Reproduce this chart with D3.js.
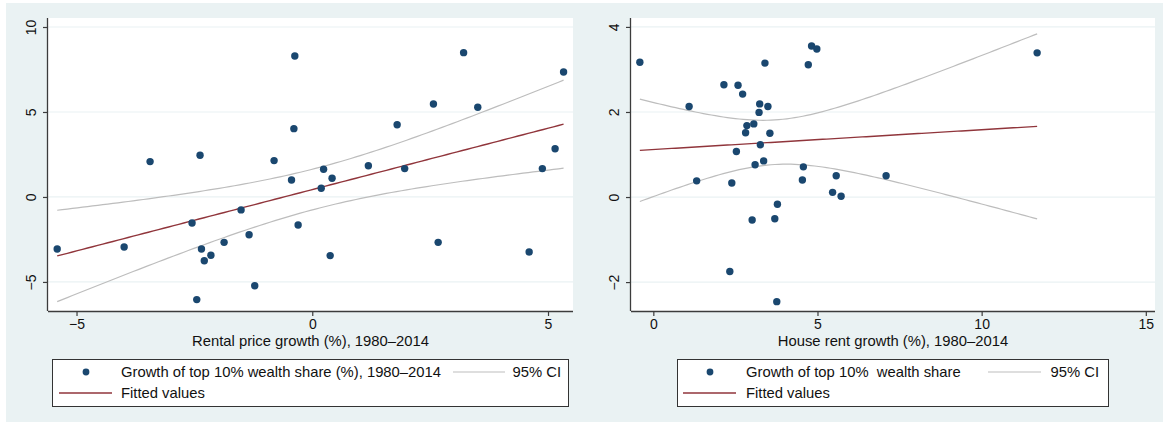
<!DOCTYPE html>
<html>
<head>
<meta charset="utf-8">
<script src="https://cdn.jsdelivr.net/npm/d3@7"></script>
<style>
  html, body { margin: 0; padding: 0; background: #ffffff; }
  svg { display: block; font-family: "Liberation Sans", Arial, Helvetica, sans-serif; }
</style>
</head>
<body>
<svg id="chart" width="1164" height="423"></svg>
<script>
// ---------------- DATA ----------------
// Left panel: rental price growth vs growth of top 10% wealth share
const leftX = [-5.41, -3.99, -3.44, -2.55, -2.45, -2.38, -2.35, -2.29, -2.15, -1.87, -1.51,
               -1.34, -1.22, -0.81, -0.44, -0.39, -0.37, -0.30, 0.19, 0.24, 0.38, 0.42,
               1.19, 1.80, 1.96, 2.57, 2.67, 3.21, 3.51, 4.60, 4.88, 5.15, 5.33];
const leftY = [-3.06, -2.94, 2.08, -1.53, -6.04, 2.45, -3.06, -3.75, -3.43, -2.67, -0.76,
               -2.22, -5.22, 2.14, 1.00, 4.02, 8.29, -1.65, 0.51, 1.63, -3.45, 1.10,
               1.84, 4.25, 1.67, 5.47, -2.67, 8.49, 5.28, -3.24, 1.67, 2.84, 7.35];
// Right panel: house rent growth vs growth of top 10% wealth share
const rightX = [-0.41, 1.09, 1.32, 2.15, 2.33, 2.39, 2.53, 2.58, 2.72, 2.81, 2.85, 3.01,
                3.06, 3.10, 3.22, 3.24, 3.26, 3.36, 3.40, 3.49, 3.55, 3.70, 3.76, 3.78,
                4.54, 4.57, 4.72, 4.82, 4.98, 5.46, 5.57, 5.72, 7.09, 11.69];
const rightY = [3.17, 2.13, 0.38, 2.64, -1.75, 0.33, 1.07, 2.63, 2.42, 1.51, 1.68, -0.54,
                1.72, 0.76, 1.99, 2.19, 1.23, 0.85, 3.15, 2.13, 1.50, -0.51, -2.46, -0.17,
                0.40, 0.71, 3.11, 3.55, 3.48, 0.11, 0.50, 0.02, 0.50, 3.39];

const leftXTicks = [-5, 0, 5];
const leftYTicks = [-5, 0, 5, 10];
const rightXTicks = [0, 5, 10, 15];
const rightYTicks = [-2, 0, 2, 4];

const leftXTitle = "Rental price growth (%), 1980\u20132014";
const rightXTitle = "House rent growth (%), 1980\u20132014";
const leftLegendLabels = ["Growth of top 10% wealth share (%), 1980\u20132014", "95% CI", "Fitted values"];
const rightLegendLabels = ["Growth of top 10%\u00a0\u00a0wealth share", "95% CI", "Fitted values"];

// ---------------- STYLE ----------------
const C = {
  bg: "#eaf2f3", plot: "#ffffff", grid: "#eaf2f3", axis: "#3c3c3c",
  marker: "#1a476f", fit: "#90353b", ci: "#bdbdbd", text: "#111111"
};
const FS_TEXT = 14.8, FS_TICK = 14;

const svg = d3.select("#chart");
svg.append("rect").attr("x", 6).attr("y", 3).attr("width", 1157).attr("height", 419).attr("fill", C.bg);

const fmt = v => (v < 0 ? "\u2212" + Math.abs(v) : String(v));

// linear fit with 95% CI (as Stata lfitci)
function fitCI(xs, ys) {
  const n = xs.length;
  const mx = d3.mean(xs), my = d3.mean(ys);
  let sxx = 0, sxy = 0;
  for (let i = 0; i < n; i++) { sxx += (xs[i] - mx) ** 2; sxy += (xs[i] - mx) * (ys[i] - my); }
  const b = sxy / sxx, a = my - b * mx;
  let rss = 0;
  for (let i = 0; i < n; i++) rss += (ys[i] - a - b * xs[i]) ** 2;
  const s = Math.sqrt(rss / (n - 2));
  const df = n - 2, z = 1.959964;
  const t = z + (z ** 3 + z) / (4 * df) + (5 * z ** 5 + 16 * z ** 3 + 3 * z) / (96 * df * df);
  const [x0, x1] = d3.extent(xs);
  const pts = d3.range(0, 101).map(k => {
    const x = x0 + (x1 - x0) * k / 100;
    const yh = a + b * x;
    const se = s * Math.sqrt(1 / n + (x - mx) ** 2 / sxx);
    return { x, yh, lo: yh - t * se, hi: yh + t * se };
  });
  return pts;
}

function panel(cfg) {
  const { xs, ys, xDomain, yDomain, left, right, top, bottom, xTicks, yTicks, xTitle, legend, labels } = cfg;
  const x = d3.scaleLinear().domain(xDomain).range([left, right]);
  const y = d3.scaleLinear().domain(yDomain).range([bottom, top]);
  const g = svg.append("g");

  g.append("rect").attr("x", left).attr("y", top).attr("width", right - left).attr("height", bottom - top).attr("fill", C.plot);

  // gridlines
  g.selectAll(".grid").data(yTicks).enter().append("line")
    .attr("x1", left).attr("x2", right)
    .attr("y1", d => y(d)).attr("y2", d => y(d))
    .attr("stroke", C.grid).attr("stroke-width", 1.2);

  const pts = fitCI(xs, ys);
  const line = key => d3.line().x(d => x(d.x)).y(d => y(d[key]));
  ["hi", "lo"].forEach(k => {
    g.append("path").datum(pts).attr("d", line(k)).attr("fill", "none").attr("stroke", C.ci).attr("stroke-width", 1.2);
  });
  g.append("path").datum(pts).attr("d", line("yh")).attr("fill", "none").attr("stroke", C.fit).attr("stroke-width", 1.4);

  g.selectAll(".pt").data(xs.map((v, i) => [v, ys[i]])).enter().append("circle")
    .attr("cx", d => x(d[0])).attr("cy", d => y(d[1])).attr("r", 3.7).attr("fill", C.marker);

  // axes
  const xAxis = d3.axisBottom(x).tickValues(xTicks).tickFormat(fmt).tickSize(5).tickPadding(3);
  const xa = g.append("g").attr("transform", `translate(0,${bottom})`).call(xAxis);
  xa.select(".domain").attr("d", `M${left},0.5H${right}`).attr("stroke", C.axis).attr("stroke-width", 1.3);
  xa.selectAll(".tick line").attr("stroke", C.axis).attr("stroke-width", 1.2);
  xa.selectAll(".tick text").attr("font-size", FS_TICK).attr("fill", C.text).attr("font-family", null);

  const yAxis = d3.axisLeft(y).tickValues(yTicks).tickFormat(fmt).tickSize(5).tickPadding(3);
  const ya = g.append("g").attr("transform", `translate(${left},0)`).call(yAxis);
  ya.select(".domain").attr("d", `M-0.5,${top}V${bottom}`).attr("stroke", C.axis).attr("stroke-width", 1.3);
  ya.selectAll(".tick line").attr("stroke", C.axis).attr("stroke-width", 1.2);
  ya.selectAll(".tick text")
    .attr("font-size", FS_TICK).attr("fill", C.text).attr("font-family", null)
    .attr("text-anchor", "middle").attr("dy", 0).attr("x", null)
    .attr("transform", "translate(-12.5,0) rotate(-90)");

  g.append("text").attr("x", (left + right) / 2).attr("y", 346).attr("text-anchor", "middle")
    .attr("font-size", FS_TEXT).attr("fill", C.text).text(xTitle);

  // legend
  const L = legend;
  g.append("rect").attr("x", L.x0 + 0.5).attr("y", 359.5).attr("width", L.x1 - L.x0).attr("height", 47)
    .attr("fill", "#ffffff").attr("stroke", "#333333").attr("stroke-width", 1);
  g.append("circle").attr("cx", L.dot).attr("cy", 372).attr("r", 3.4).attr("fill", C.marker);
  g.append("text").attr("x", L.text).attr("y", 377).attr("font-size", FS_TEXT).attr("fill", C.text).text(labels[0]);
  g.append("line").attr("x1", L.ci0).attr("x2", L.ci1).attr("y1", 372).attr("y2", 372).attr("stroke", C.ci).attr("stroke-width", 1.2);
  g.append("text").attr("x", L.ciText).attr("y", 377).attr("text-anchor", "end").attr("font-size", FS_TEXT).attr("fill", C.text).text(labels[1]);
  g.append("line").attr("x1", L.fit0).attr("x2", L.fit1).attr("y1", 393).attr("y2", 393).attr("stroke", C.fit).attr("stroke-width", 1.4);
  g.append("text").attr("x", L.text).attr("y", 398).attr("font-size", FS_TEXT).attr("fill", C.text).text(labels[2]);
}

panel({
  xs: leftX, ys: leftY, xDomain: [-5.605, 5.53], yDomain: [-6.71, 10.53],
  left: 48, right: 573, top: 18, bottom: 311,
  xTicks: leftXTicks, yTicks: leftYTicks, xTitle: leftXTitle, labels: leftLegendLabels,
  legend: { x0: 52, x1: 568, dot: 86, text: 121, ci0: 453, ci1: 505, ciText: 561, fit0: 59, fit1: 112 }
});
panel({
  xs: rightX, ys: rightY, xDomain: [-0.68, 15.28], yDomain: [-2.68, 4.21],
  left: 631, right: 1155, top: 18, bottom: 311,
  xTicks: rightXTicks, yTicks: rightYTicks, xTitle: rightXTitle, labels: rightLegendLabels,
  legend: { x0: 677, x1: 1108, dot: 710, text: 746, ci0: 988, ci1: 1041, ciText: 1099, fit0: 683, fit1: 736 }
});
</script>
</body>
</html>
